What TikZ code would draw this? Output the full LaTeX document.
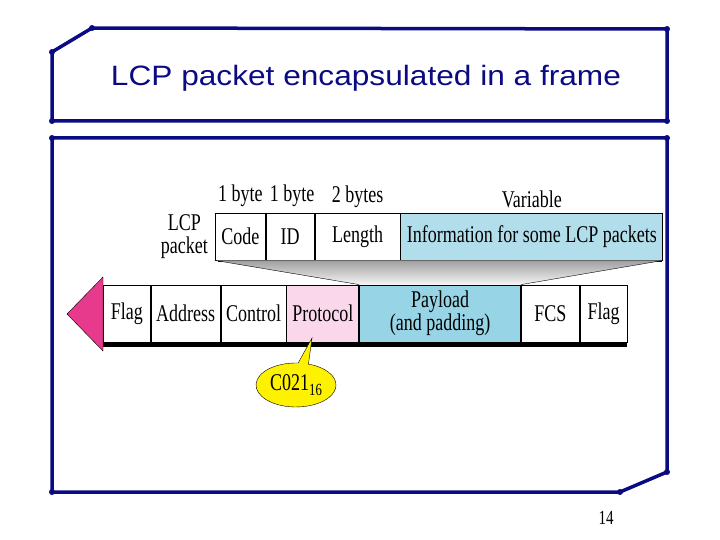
\documentclass[tikz,border=0pt]{standalone}
\usepackage{fontspec}
\setmainfont{Liberation Serif}[FakeStretch=0.75]
\newfontfamily\titlefont{Liberation Sans}[FakeStretch=1.13]
\usetikzlibrary{shapes,shapes.callouts,positioning}
\definecolor{slideblue}{RGB}{10,10,130}
\definecolor{protopink}{RGB}{250,215,235}
\definecolor{loadblue}{RGB}{150,212,230}
\definecolor{infoblue}{RGB}{178,222,236}
\definecolor{flagred}{RGB}{232,58,140}

\begin{document}
\begin{tikzpicture}[x=1pt, y=-1pt,
  field/.style={draw, thick, minimum height=57pt, inner sep=0pt,
    font=\fontsize{24}{23}\selectfont},
  lcp/.style={field, minimum height=47pt},
  size/.style={font=\fontsize{24}{23}\selectfont, inner sep=1pt},
  corner/.style={fill=slideblue, circle, inner sep=0pt, minimum size=6pt}]
  \useasboundingbox (0,0) rectangle (720,540);

  % slide frames
  \draw[slideblue, line width=3.5pt, line join=round]
    (52,52) -- (92,28) -- (667,29) -- (667,121) -- (52,121) -- cycle;
  \draw[slideblue, line width=3.5pt, line join=round]
    (52,138) -- (667,138) -- (667,472) -- (620,492) -- (52,492) -- cycle;
  \foreach \p in {(52,52),(92,28),(667,29),(667,121),(52,121),
                  (52,138),(667,138),(667,472),(620,492),(52,492)}
    \node[corner] at \p {};

  \node[font=\titlefont\fontsize{28}{30}\selectfont, text=slideblue]
    (title) at (366,78) {LCP packet encapsulated in a frame};

  % shadows
  \fill (218,216) rectangle (662,262);
  \fill (103,290) rectangle (627,347);

  % LCP packet
  \node[lcp, minimum width=50pt, fill=white, anchor=west] (code) at (215,236.5) {Code};
  \node[lcp, minimum width=48pt, fill=white, right=0pt of code] (id) {ID};
  \node[lcp, minimum width=85pt, fill=white, right=0pt of id] (length) {Length};
  \node[lcp, minimum width=262pt, fill=infoblue, right=0pt of length] (info)
    {Information for some LCP packets};

  \node[size, above=5pt of code] (sz1) {1 byte};
  \node[size, above=5pt of id, xshift=2pt] (sz2) {1 byte};
  \node[size, above=4pt of length] (sz3) {2 bytes};
  \node[size, above=4pt of info] (sz4) {Variable};
  \node[size, align=center, left=6pt of code] (lcplabel) {LCP\\packet};

  % frame
  \node[field, minimum width=47pt, fill=white, anchor=west] (flag1) at (103,313.5) {Flag};
  \node[field, minimum width=69pt, fill=white, right=0pt of flag1] (addr) {Address};
  \node[field, minimum width=65pt, fill=white, right=0pt of addr] (ctrl) {Control};
  \node[field, minimum width=72pt, fill=protopink, right=0pt of ctrl] (proto) {Protocol};
  \node[field, minimum width=161pt, fill=loadblue, align=center, right=0pt of proto]
    (payload) {Payload\\(and padding)};
  \node[field, minimum width=58pt, fill=white, right=0pt of payload] (fcs) {FCS};
  \node[field, minimum width=47pt, fill=white, right=0pt of fcs] (flag2) {Flag};

  \shade[top color=gray!75, bottom color=gray!8]
    (code.south west) -- (info.south east) -- (payload.north east) -- (payload.north west) -- cycle;
  \draw (code.south west) -- (payload.north west);
  \draw (info.south east) -- (payload.north east);

  \draw[fill=flagred] (103,277) -- (67,314) -- (103,351) -- cycle;

  \node[ellipse callout, draw, fill=yellow, minimum width=80pt, minimum height=44pt,
    inner sep=1pt, font=\fontsize{24}{24}\selectfont, callout absolute pointer={(312,338)}]
    (hex) at (296,385) {C021\raisebox{-0.5ex}{\fontsize{17}{17}\selectfont 16}};

  \node[font=\fontsize{20}{20}\selectfont] (page) at (606,518) {14};
\end{tikzpicture}
\end{document}
